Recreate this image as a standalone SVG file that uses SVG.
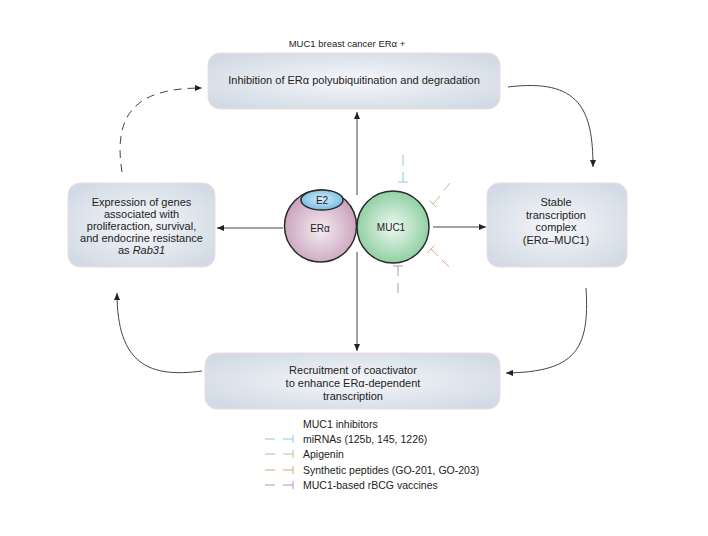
<svg xmlns="http://www.w3.org/2000/svg" width="708" height="536" viewBox="0 0 708 536">
<defs>
<radialGradient id="boxg" cx="50%" cy="50%" r="60%">
<stop offset="0" stop-color="#f6f7fa"/>
<stop offset="1" stop-color="#d2dbe5"/>
</radialGradient>
<radialGradient id="erg" cx="50%" cy="55%" r="55%">
<stop offset="0" stop-color="#f5ecf2"/>
<stop offset="1" stop-color="#c79fb9"/>
</radialGradient>
<radialGradient id="mucg" cx="50%" cy="50%" r="55%">
<stop offset="0" stop-color="#eef8f1"/>
<stop offset="1" stop-color="#88cc9c"/>
</radialGradient>
<radialGradient id="e2g" cx="50%" cy="45%" r="60%">
<stop offset="0" stop-color="#d6eefa"/>
<stop offset="1" stop-color="#6eb6df"/>
</radialGradient>
<marker id="ah" markerWidth="8" markerHeight="6" refX="7" refY="3" orient="auto" markerUnits="userSpaceOnUse">
<path d="M0,0 L7,3 L0,6 z" fill="#222"/>
</marker>
<style>
.box{fill:url(#boxg);stroke:#f0d9e0;stroke-width:1}
.t{font-family:"Liberation Sans",Arial,sans-serif;font-size:11px;fill:#222;text-anchor:middle}
.lg{font-family:"Liberation Sans",Arial,sans-serif;font-size:10.5px;fill:#222}
.c{fill:none;stroke:#444;stroke-width:1;marker-end:url(#ah)}
.inh{fill:none;stroke-width:1}
</style>
</defs>

<text x="347" y="47" class="t" style="font-size:9.5px">MUC1 breast cancer ERα +</text>

<g id="connectors">
<path class="c" d="M357,195 L357,112"/>
<path class="c" d="M357,252 L357,351"/>
<path class="c" d="M283,228 L217,228"/>
<path class="c" d="M433,227 L486,227"/>
<path class="c" d="M508,87 C580,78 593,110 593,167"/>
<path class="c" d="M586,288 C590,350 575,372 506,373"/>
<path class="c" d="M202,371 C150,378 117,365 117,293"/>
<path class="c" d="M122,172 C112,110 140,88 202,88" stroke-dasharray="8 6"/>
</g>

<g id="top-box">
<rect class="box" x="208" y="53" width="292" height="56" rx="12"/>
<text x="354" y="84" class="t">Inhibition of ERα polyubiquitination and degradation</text>
</g>

<g id="left-box">
<rect class="box" x="68" y="183" width="147" height="84" rx="12"/>
<text class="t"><tspan x="141.5" y="206">Expression of genes</tspan><tspan x="141.5" y="218">associated with</tspan><tspan x="141.5" y="230">proliferaction, survival,</tspan><tspan x="141.5" y="242">and endocrine resistance</tspan><tspan x="141.5" y="254">as <tspan font-style="italic">Rab31</tspan></tspan></text>
</g>

<g id="right-box">
<rect class="box" x="487" y="183" width="140" height="84" rx="12"/>
<text class="t"><tspan x="556" y="206">Stable</tspan><tspan x="556" y="219">transcription</tspan><tspan x="556" y="231">complex</tspan><tspan x="556" y="244">(ERα–MUC1)</tspan></text>
</g>

<g id="bottom-box">
<rect class="box" x="205" y="353" width="295" height="56" rx="12"/>
<text class="t"><tspan x="353" y="374">Recruitment of coactivator</tspan><tspan x="353" y="387">to enhance ERα-dependent</tspan><tspan x="353" y="400">transcription</tspan></text>
</g>

<g id="er-alpha">
<circle cx="320.5" cy="226" r="36" fill="url(#erg)" stroke="#2a2a2a" stroke-width="1.5"/>
<text x="320" y="232" class="t" style="font-size:10px">ERα</text>
</g>

<g id="e2">
<ellipse cx="322" cy="200" rx="21" ry="10" fill="url(#e2g)" stroke="#2a2a2a" stroke-width="1.5"/>
<text x="322" y="204" class="t" style="font-size:10px">E2</text>
</g>

<g id="muc1">
<circle cx="393" cy="227" r="36" fill="url(#mucg)" stroke="#2a2a2a" stroke-width="1.5"/>
<text x="391" y="231" class="t" style="font-size:10px">MUC1</text>
</g>

<g id="inhibitors">
<g stroke="#8ec9da" class="inh">
<path d="M403,155 L403,166 M403,172 L403,182 M398,182 L408,182"/>
</g>
<g stroke="#a3cd8f" class="inh">
<path d="M450,183 L443.5,190.5 M440,196 L433,204 M429.5,200.5 L436.5,207.5"/>
</g>
<g stroke="#eba58a" class="inh">
<path d="M449,267 L442,260 M438,256 L431,249 M427.5,252.5 L434.5,245.5"/>
</g>
<g stroke="#b791b5" class="inh">
<path d="M398,293 L398,283 M398,276 L398,266 M393,266 L403,266"/>
</g>
</g>

<g id="legend">
<text x="303" y="428" class="lg">MUC1 inhibitors</text>
<path class="inh" stroke="#8ec9da" d="M265,439 L275,439 M283,439 L293,439 M293,435 L293,443"/>
<text x="303" y="442.5" class="lg">miRNAs (125b, 145, 1226)</text>
<path class="inh" stroke="#a3cd8f" d="M265,454 L275,454 M283,454 L293,454 M293,450 L293,458"/>
<text x="303" y="457.5" class="lg">Apigenin</text>
<path class="inh" stroke="#d9a878" d="M265,470 L275,470 M283,470 L293,470 M293,466 L293,474"/>
<text x="303" y="473.5" class="lg">Synthetic peptides (GO-201, GO-203)</text>
<path class="inh" stroke="#b791b5" d="M265,485 L275,485 M283,485 L293,485 M293,481 L293,489"/>
<text x="303" y="488.5" class="lg">MUC1-based rBCG vaccines</text>
</g>
</svg>
